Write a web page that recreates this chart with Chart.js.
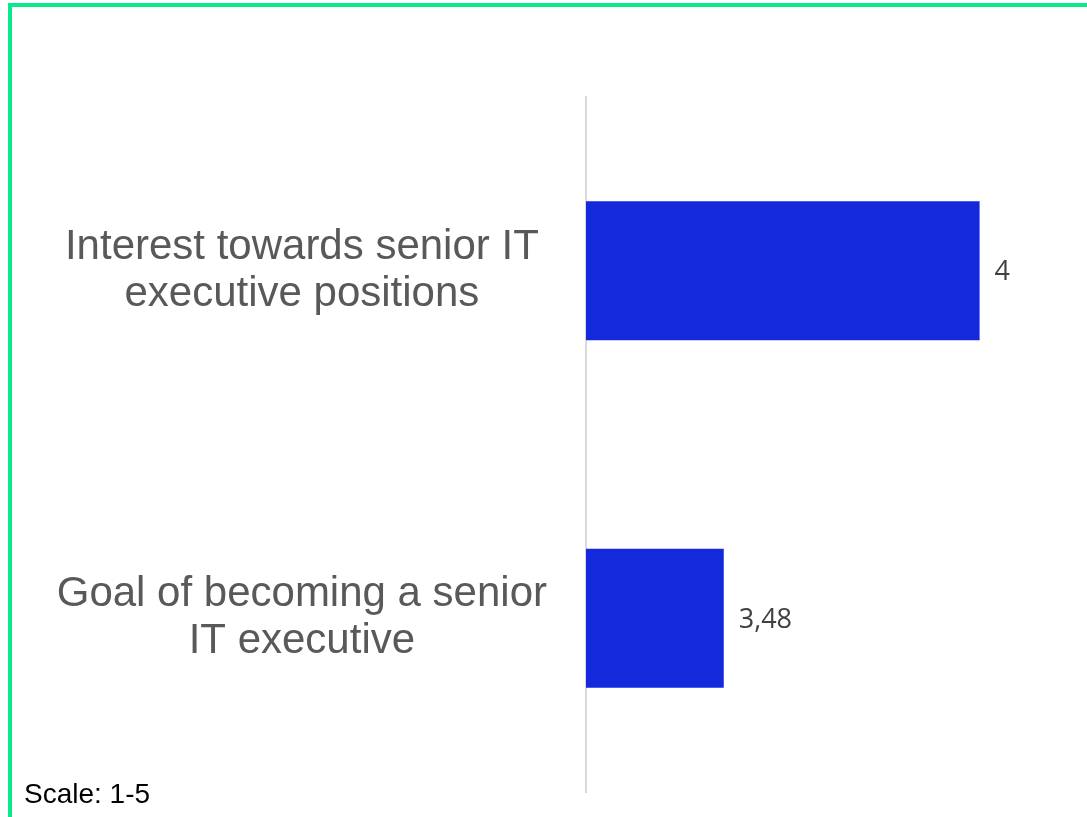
<!DOCTYPE html>
<html>
<head>
<meta charset="utf-8">
<script src="https://cdn.jsdelivr.net/npm/chart.js@4/dist/chart.umd.min.js"></script>
<style>
  html, body { margin: 0; padding: 0; background: #ffffff; }
  #wrap { width: 1087px; height: 817px; position: relative; }
</style>
</head>
<body>
<div id="wrap"><canvas id="c" width="1087" height="817"></canvas></div>
<script>
const categories = [
  ["Interest towards senior IT", "executive positions"],
  ["Goal of becoming a senior", "IT executive"]
];
const values = [4, 3.48];
const valueLabels = ["4", "3,48"];
const axisMin = 3.2;
const axisMax = 4.2;
const footnote = "Scale: 1-5";

const framePlugin = {
  id: 'frame',
  afterDraw(chart) {
    const ctx = chart.ctx;
    ctx.save();
    ctx.fillStyle = '#0be88e';
    ctx.fillRect(8, 3, 4, chart.height);
    ctx.fillRect(8, 3, chart.width, 4);
    ctx.fillStyle = '#000000';
    ctx.font = '28px "Liberation Sans", Arial, sans-serif';
    ctx.textAlign = 'left';
    ctx.textBaseline = 'alphabetic';
    ctx.fillText(footnote, 24, 803);
    ctx.restore();
  }
};

const valueLabelPlugin = {
  id: 'valueLabels',
  afterDatasetsDraw(chart) {
    const ctx = chart.ctx;
    const meta = chart.getDatasetMeta(0);
    ctx.save();
    ctx.fillStyle = '#404040';
    ctx.font = '27px "Open Sans", sans-serif';
    ctx.textAlign = 'left';
    ctx.textBaseline = 'middle';
    meta.data.forEach((bar, i) => {
      ctx.fillText(valueLabels[i], bar.x + 15, bar.y + 2);
    });
    ctx.restore();
  }
};

new Chart(document.getElementById('c'), {
  type: 'bar',
  data: {
    labels: categories,
    datasets: [{
      data: values,
      backgroundColor: '#1529dc',
      borderWidth: 0,
      categoryPercentage: 0.8,
      barPercentage: 0.5
    }]
  },
  options: {
    indexAxis: 'y',
    responsive: false,
    animation: false,
    devicePixelRatio: 1,
    layout: { padding: { top: 97, bottom: 25, left: 0, right: 9 } },
    plugins: { legend: { display: false }, tooltip: { enabled: false } },
    scales: {
      x: {
        display: false,
        min: axisMin,
        max: axisMax
      },
      y: {
        grid: { display: false, drawTicks: false },
        border: { display: true, color: '#d9d9d9', width: 2 },
        ticks: {
          color: '#595959',
          font: { family: '"Liberation Sans", Arial, sans-serif', size: 42, lineHeight: 1.12 },
          crossAlign: 'center',
          padding: 39
        },
        afterFit(scale) {
          scale.width = 586;
          scale.paddingTop = 0;
          scale.paddingBottom = 0;
        }
      }
    }
  },
  plugins: [framePlugin, valueLabelPlugin]
});
</script>
</body>
</html>
